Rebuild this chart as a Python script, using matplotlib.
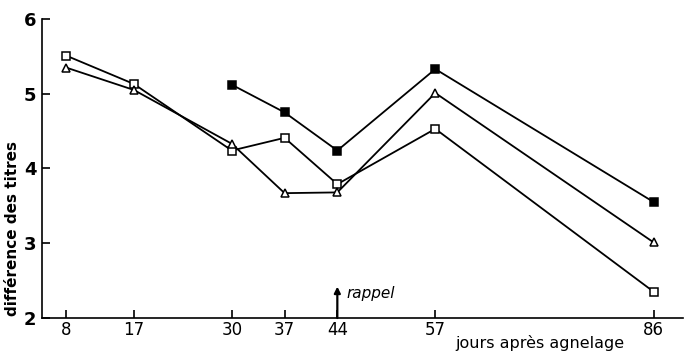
"""Différence des titres selon les jours après agnelage (trois séries)."""
import matplotlib
matplotlib.use("Agg")
import matplotlib.pyplot as plt

# jours après agnelage
jours = [8, 17, 30, 37, 44, 57, 86]
carres_ouverts = [5.51, 5.13, 4.24, 4.41, 3.79, 4.53, 2.35]
triangles = [5.35, 5.05, 4.33, 3.67, 3.68, 5.01, 3.01]
# série carrés pleins : commence au jour 30
jours_pleins = [30, 37, 44, 57, 86]
carres_pleins = [5.12, 4.75, 4.24, 5.33, 3.55]

y_ticks = [2, 3, 4, 5, 6]
jour_rappel = 44

INK = "black"

fig = plt.figure(figsize=(6.85, 3.51), dpi=100, facecolor="white")
ax = fig.add_axes([0.0613, 0.094, 0.936, 0.852])

line_kw = dict(color=INK, linewidth=1.3, markeredgewidth=1.1, markeredgecolor=INK)
ax.plot(jours, carres_ouverts, marker="s", markersize=6, markerfacecolor="white", **line_kw)
ax.plot(jours, triangles, marker="^", markersize=6, markerfacecolor="white", **line_kw)
ax.plot(jours_pleins, carres_pleins, marker="s", markersize=5.5, markerfacecolor=INK, **line_kw)

ax.set_xlim(4.8, 89.9)
ax.set_ylim(2, 6)

for side in ("top", "right"):
    ax.spines[side].set_visible(False)
for side in ("left", "bottom"):
    ax.spines[side].set_linewidth(1.2)
    ax.spines[side].set_color(INK)

ax.set_xticks(jours)
ax.set_xticklabels([str(j) for j in jours], fontsize=12)
ax.set_yticks(y_ticks)
ax.set_yticklabels([str(v) for v in y_ticks], fontsize=13, fontweight="bold")
ax.tick_params(axis="both", direction="in", length=6, width=1.2, colors=INK)
ax.tick_params(axis="x", pad=2)
ax.tick_params(axis="y", pad=4)

# flèche du rappel au jour 44
ax.annotate("", xy=(jour_rappel, 2.42), xytext=(jour_rappel, 2.0),
            arrowprops=dict(arrowstyle="-|>", color=INK, linewidth=1.6,
                            mutation_scale=9, shrinkA=0, shrinkB=0))
ax.text(jour_rappel + 1.2, 2.33, "rappel", fontsize=11, style="italic",
        ha="left", va="center", color=INK)

fig.text(0.018, 0.35, "différence des titres", rotation=90, fontsize=11,
         fontweight="bold", ha="center", va="center", color=INK)
fig.text(0.665, 0.022, "jours après agnelage", fontsize=11.5,
         ha="left", va="center", color=INK)

fig.savefig("out.png", dpi=100, facecolor="white")
